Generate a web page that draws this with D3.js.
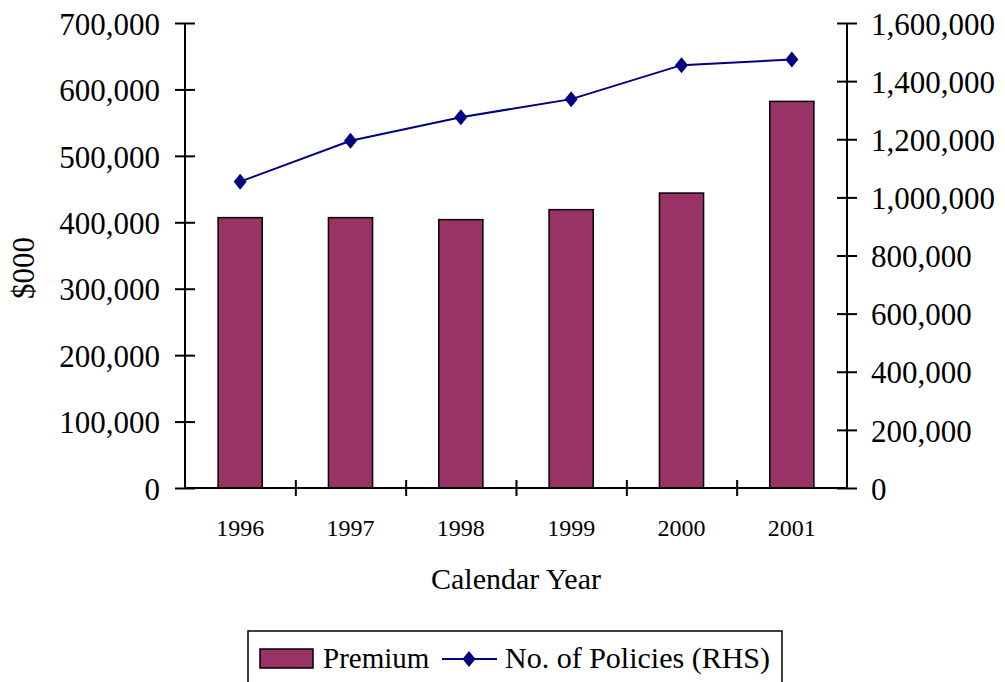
<!DOCTYPE html>
<html>
<head>
<meta charset="utf-8">
<script src="https://cdn.jsdelivr.net/npm/d3@7"></script>
<style>
  html, body { margin: 0; padding: 0; background: #fff; }
  svg { display: block; }
  text { font-family: "Liberation Serif", "Times New Roman", serif; fill: #000; }
</style>
</head>
<body>
<svg id="chart" width="1005" height="682"></svg>
<script>
// Premium ($000) and number of policies by calendar year
const years = ["1996", "1997", "1998", "1999", "2000", "2001"];
const premium = [407000, 407000, 404000, 419000, 444000, 582000];
const policies = [1054000, 1195000, 1276000, 1338000, 1455000, 1474000];
const leftTicks = [0, 100000, 200000, 300000, 400000, 500000, 600000, 700000];
const rightTicks = [0, 200000, 400000, 600000, 800000, 1000000, 1200000, 1400000, 1600000];

const svg = d3.select("#chart");
const plotL = 185, plotR = 847, plotT = 23, plotB = 488;
const fmt = d3.format(",");

const x = d3.scaleBand().domain(years).range([plotL, plotR]).paddingInner(0.6).paddingOuter(0.3);
const xEdge = d3.scaleLinear().domain([0, years.length]).range([plotL, plotR]);
const yL = d3.scaleLinear().domain([0, 700000]).range([plotB, plotT]);
const yR = d3.scaleLinear().domain([0, 1600000]).range([plotB, plotT]);

// Bars (left axis)
svg.append("g").selectAll("rect").data(years).join("rect")
  .attr("x", d => x(d))
  .attr("y", (d, i) => yL(premium[i]))
  .attr("width", x.bandwidth())
  .attr("height", (d, i) => yL(0) - yL(premium[i]))
  .attr("fill", "#993366")
  .attr("stroke", "#000")
  .attr("stroke-width", 1.5);

// Left axis
const gL = svg.append("g").attr("transform", `translate(${plotL},0)`)
  .call(d3.axisLeft(yL).tickValues(leftTicks).tickFormat(fmt).tickSize(10));
gL.select(".domain").attr("stroke-width", 2).attr("d", `M0,${plotT}V${plotB}`);
gL.selectAll(".tick line").attr("x1", -10).attr("x2", 10).attr("stroke-width", 2);
gL.selectAll(".tick text").attr("x", -25).attr("dy", "0.36em")
  .style("font-size", "31px").style("font-family", "Liberation Serif");

// Right axis
const gR = svg.append("g").attr("transform", `translate(${plotR},0)`)
  .call(d3.axisRight(yR).tickValues(rightTicks).tickFormat(fmt).tickSize(10));
gR.select(".domain").attr("stroke-width", 2).attr("d", `M0,${plotT}V${plotB}`);
gR.selectAll(".tick line").attr("x1", -10).attr("x2", 10).attr("stroke-width", 2);
gR.selectAll(".tick text").attr("x", 24).attr("dy", "0.36em")
  .style("font-size", "31px").style("font-family", "Liberation Serif");

// Bottom axis: line, category dividers and year labels
const gB = svg.append("g").attr("transform", `translate(0,${plotB})`)
  .call(d3.axisBottom(xEdge).tickValues(d3.range(1, years.length)).tickFormat("").tickSize(8));
gB.select(".domain").attr("stroke-width", 2).attr("d", `M${plotL},0H${plotR}`);
gB.selectAll(".tick line").attr("y1", -8).attr("y2", 8).attr("stroke-width", 2);

const gX = svg.append("g").attr("transform", `translate(0,${plotB})`)
  .call(d3.axisBottom(x).tickSize(0));
gX.select(".domain").remove();
gX.selectAll(".tick text").attr("y", 48).attr("dy", 0)
  .style("font-size", "24px").style("font-family", "Liberation Serif");

// Line (right axis)
const cx = d => x(d) + x.bandwidth() / 2;
svg.append("path")
  .datum(years)
  .attr("fill", "none")
  .attr("stroke", "#000080")
  .attr("stroke-width", 2)
  .attr("d", d3.line().x(d => cx(d)).y((d, i) => yR(policies[i])));

const diamond = "M0,-8L6.5,0L0,8L-6.5,0Z";
svg.append("g").selectAll("path").data(years).join("path")
  .attr("transform", (d, i) => `translate(${cx(d)},${yR(policies[i])})`)
  .attr("d", diamond)
  .attr("fill", "#000080");

// Axis titles
svg.append("text").attr("x", 516).attr("y", 589).attr("text-anchor", "middle")
  .style("font-size", "30px").text("Calendar Year");
svg.append("text").attr("transform", "translate(34,268) rotate(-90)").attr("text-anchor", "middle")
  .style("font-size", "31px").text("$000");

// Legend
const lg = svg.append("g");
lg.append("rect").attr("x", 248).attr("y", 631).attr("width", 534).attr("height", 70)
  .attr("fill", "#fff").attr("stroke", "#000").attr("stroke-width", 1.5);
lg.append("rect").attr("x", 260).attr("y", 649).attr("width", 53).attr("height", 19)
  .attr("fill", "#993366").attr("stroke", "#000").attr("stroke-width", 1.5);
lg.append("text").attr("x", 323).attr("y", 668).style("font-size", "29px").text("Premium");
lg.append("line").attr("x1", 442).attr("x2", 497).attr("y1", 659).attr("y2", 659)
  .attr("stroke", "#000080").attr("stroke-width", 2);
lg.append("path").attr("transform", "translate(469,659)").attr("d", diamond).attr("fill", "#000080");
lg.append("text").attr("x", 505).attr("y", 668).style("font-size", "30px").text("No. of Policies (RHS)");
</script>
</body>
</html>
